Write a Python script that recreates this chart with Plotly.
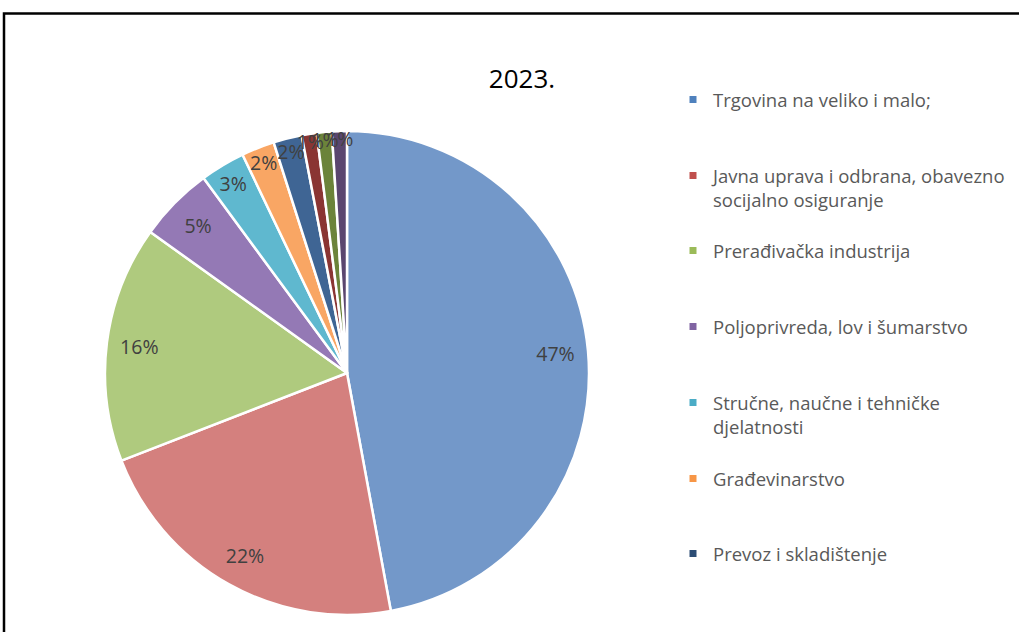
import plotly.graph_objects as go

W, H = 1019, 632

categories = [
    "Trgovina na veliko i malo;",
    "Javna uprava i odbrana, obavezno<br>socijalno osiguranje",
    "Prerađivačka industrija",
    "Poljoprivreda, lov i šumarstvo",
    "Stručne, naučne i tehničke<br>djelatnosti",
    "Građevinarstvo",
    "Prevoz i skladištenje",
    "Finansijske djelatnosti i djelatnosti osiguranja",
    "Informacije i komunikacije",
    "Ostale uslužne djelatnosti",
]
values = [47.1, 22.0, 15.8, 5.0, 3.0, 2.2, 1.9, 1.0, 1.0, 1.0]
colors = ["#7398C9", "#D4807E", "#AFCA7E", "#9479B5", "#5FB8CF",
          "#F9A664", "#3F6594", "#8A3533", "#6B833A", "#5A466F"]
legend_colors = ["#4F81BD", "#C0504D", "#9BBB59", "#8064A2", "#4BACC6",
                 "#F79646", "#2C4D75"]
legend_count = 7  # visible legend entries in the reference crop

FONT = "'Open Sans', Lato, sans-serif"

def px_x(x):
    return x / W

def px_y(y):
    return 1 - y / H

cx, cy, r = 347, 373, 242
dom_x = [px_x(cx - r), px_x(cx + r)]
dom_y = [px_y(cy + r), px_y(cy - r)]

fig = go.Figure()
fig.add_trace(go.Pie(
    labels=categories, values=values, sort=False, direction="clockwise",
    rotation=0, domain=dict(x=dom_x, y=dom_y),
    marker=dict(colors=colors, line=dict(color="white", width=2.5)),
    textinfo="none", showlegend=False, hoverinfo="label+percent",
))
fig.add_trace(go.Pie(
    labels=categories, values=values, sort=False, direction="clockwise",
    rotation=0, domain=dict(x=dom_x, y=dom_y), hole=0.73,
    marker=dict(colors=["rgba(0,0,0,0)"] * len(values), line=dict(width=0)),
    texttemplate="%{percent:.0%}", textposition="inside",
    insidetextorientation="horizontal",
    textfont=dict(family=FONT, size=19.5, color="#404040"),
    showlegend=False, hoverinfo="skip",
))

legend_rows = [100, 176, 251, 327, 403, 479, 554]
layout_legends = {}
for i in range(legend_count):
    key = "legend" if i == 0 else f"legend{i+1}"
    fig.add_trace(go.Scatter(
        x=[None], y=[None], mode="markers", name=categories[i],
        marker=dict(symbol="square", size=7, color=legend_colors[i]),
        legend=key, hoverinfo="skip",
    ))
    layout_legends[key] = dict(
        x=px_x(673), y=px_y(legend_rows[i] - 19), xanchor="left", yanchor="top",
        font=dict(family=FONT, size=18.5, color="#595959"),
        bgcolor="rgba(0,0,0,0)", borderwidth=0, valign="top",
    )

fig.update_layout(
    width=W, height=H,
    margin=dict(l=0, r=0, t=0, b=0),
    paper_bgcolor="white", plot_bgcolor="white",
    xaxis=dict(visible=False), yaxis=dict(visible=False),
    uniformtext=dict(minsize=19.5, mode="show"),
    title=dict(text="2023.", x=px_x(522), y=px_y(79), xanchor="center",
               yanchor="middle", font=dict(family=FONT, size=26, color="black")),
    shapes=[dict(type="rect", xref="paper", yref="paper",
                 x0=px_x(4), x1=px_x(1040), y0=px_y(660), y1=px_y(13.5),
                 line=dict(color="black", width=2.5))],
    **layout_legends,
)

fig.write_html(
    "out.html",
    config={"displayModeBar": False},
    post_script="document.body.style.margin='0';document.body.style.overflow='hidden';",
)
